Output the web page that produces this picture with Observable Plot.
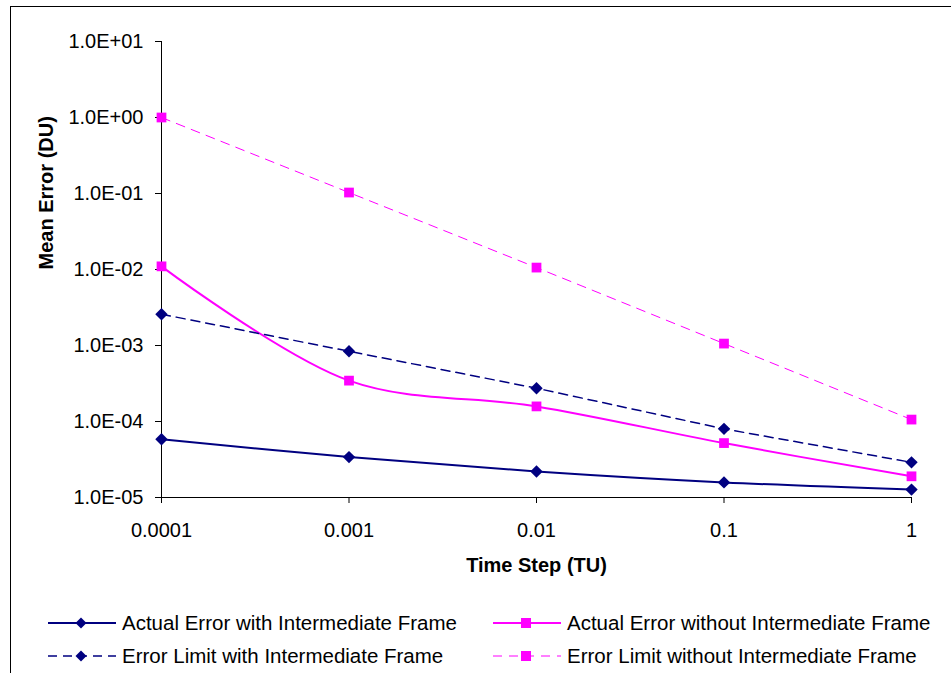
<!DOCTYPE html>
<html>
<head>
<meta charset="utf-8">
<script src="https://cdn.jsdelivr.net/npm/d3@7"></script>
<script src="https://cdn.jsdelivr.net/npm/@observablehq/plot@0.6"></script>
<style>
  html, body { margin: 0; padding: 0; background: #fff; }
  body { width: 951px; height: 673px; position: relative; overflow: hidden; font-family: "Liberation Sans", Arial, sans-serif; }
  #frame { position: absolute; left: 10px; top: 6px; right: -10px; bottom: -10px; border-left: 1.5px solid #000; border-top: 1.5px solid #000; pointer-events: none; }
  #chart { position: absolute; left: 0; top: 0; }
  .item { position: absolute; display: flex; align-items: center; font-size: 20.5px; color: #000; white-space: nowrap; }
  .item svg { margin-right: 6px; }
</style>
</head>
<body>
<div id="chart"></div>
<div id="legend"></div>
<div id="frame"></div>
<script>
// ---- data ----
const timeSteps = [0.0001, 0.001, 0.01, 0.1, 1];
const xTickLabels = ["0.0001", "0.001", "0.01", "0.1", "1"];
const yTicks = [1e-5, 1e-4, 1e-3, 1e-2, 1e-1, 1e0, 1e1];
const yTickLabels = ["1.0E-05", "1.0E-04", "1.0E-03", "1.0E-02", "1.0E-01", "1.0E+00", "1.0E+01"];

const seriesNames = [
  "Actual Error with Intermediate Frame",
  "Actual Error without Intermediate Frame",
  "Error Limit with Intermediate Frame",
  "Error Limit without Intermediate Frame"
];
const actualWithIF    = [5.85e-5, 3.4e-5, 2.2e-5, 1.58e-5, 1.27e-5];
const actualWithoutIF = [1.1e-2, 3.45e-4, 1.58e-4, 5.2e-5, 1.9e-5];
const limitWithIF     = [2.58e-3, 8.4e-4, 2.74e-4, 8.0e-5, 2.9e-5];
const limitWithoutIF  = [1.0, 0.103, 0.0106, 0.00106, 0.000106];

const styles = [
  {color: "#000080", width: 2, dash: null, symbol: "diamond2", r: 5.6, curve: "catmull-rom"},
  {color: "#FF00FF", width: 2, dash: null, symbol: "square", r: 5.5, curve: "catmull-rom"},
  {color: "#000080", width: 1.5, dash: "9,6", symbol: "diamond2", r: 5.6, curve: "linear"},
  {color: "#FF00FF", width: 1, dash: "9,7", symbol: "square", r: 5.5, curve: "linear"}
];
const valuesList = [actualWithIF, actualWithoutIF, limitWithIF, limitWithoutIF];

const tables = valuesList.map((vals, k) => timeSteps.map((t, i) => ({x: t, y: vals[i], name: seriesNames[k]})));

const lineMarks = tables.map((tbl, k) => Plot.line(tbl, {
  x: "x", y: "y", stroke: styles[k].color, strokeWidth: styles[k].width,
  strokeDasharray: styles[k].dash, curve: styles[k].curve
}));
const dotMarks = tables.map((tbl, k) => Plot.dot(tbl, {
  x: "x", y: "y", symbol: styles[k].symbol, r: styles[k].r, fill: styles[k].color, stroke: "none"
}));

const plot = Plot.plot({
  width: 951,
  height: 600,
  marginLeft: 161,
  marginRight: 40,
  marginTop: 41,
  marginBottom: 103,
  style: {fontFamily: "'Liberation Sans', Arial, sans-serif", fontSize: "20px", background: "transparent", color: "#000", overflow: "visible"},
  x: {type: "log", domain: [1e-4, 1]},
  y: {type: "log", domain: [1e-5, 10]},
  marks: [
    Plot.axisX({ticks: timeSteps, tickFormat: (d) => xTickLabels[timeSteps.indexOf(d)], tickSize: 6, tickPadding: 19, label: null, stroke: "#000", strokeOpacity: 1}),
    Plot.axisY({ticks: yTicks, tickFormat: (d) => yTickLabels[yTicks.indexOf(d)], tickSize: 6, tickPadding: 12, label: null, stroke: "#000", strokeOpacity: 1}),
    Plot.ruleX([1e-4], {stroke: "#000", strokeWidth: 1}),
    Plot.ruleY([1e-5], {stroke: "#000", strokeWidth: 1}),
    ...lineMarks,
    ...dotMarks,
    Plot.text(["Time Step (TU)"], {frameAnchor: "bottom", lineAnchor: "middle", dy: 68, fontWeight: "bold", fontSize: 20, fill: "#000"}),
    Plot.text(["Mean Error (DU)"], {frameAnchor: "left", lineAnchor: "middle", dx: -115, rotate: -90, fontWeight: "bold", fontSize: 20, fill: "#000"})
  ]
});
document.getElementById("chart").appendChild(plot);

// ---- legend ----
const legendPos = [
  {left: 48, top: 623},
  {left: 493, top: 623},
  {left: 48, top: 656},
  {left: 493, top: 656}
];
const legend = document.getElementById("legend");
seriesNames.forEach((name, k) => {
  const s = styles[k];
  const div = document.createElement("div");
  div.className = "item";
  div.style.left = legendPos[k].left + "px";
  div.style.top = (legendPos[k].top - 12) + "px";
  div.style.height = "24px";
  const w = 68, h = 24, cx = 33, cy = 12;
  let marker;
  if (s.symbol === "square") {
    marker = `<rect x="${cx - 5}" y="${cy - 5}" width="10" height="10" fill="${s.color}"/>`;
  } else {
    marker = `<path d="M${cx},${cy - 5.5}L${cx + 5.5},${cy}L${cx},${cy + 5.5}L${cx - 5.5},${cy}Z" fill="${s.color}"/>`;
  }
  div.innerHTML = `<svg width="${w}" height="${h}"><line x1="0" y1="${cy}" x2="${w}" y2="${cy}" stroke="${s.color}" stroke-width="${s.width}" ${s.dash ? `stroke-dasharray="${s.dash}"` : ""}/>${marker}</svg><span>${name}</span>`;
  legend.appendChild(div);
});
</script>
</body>
</html>
